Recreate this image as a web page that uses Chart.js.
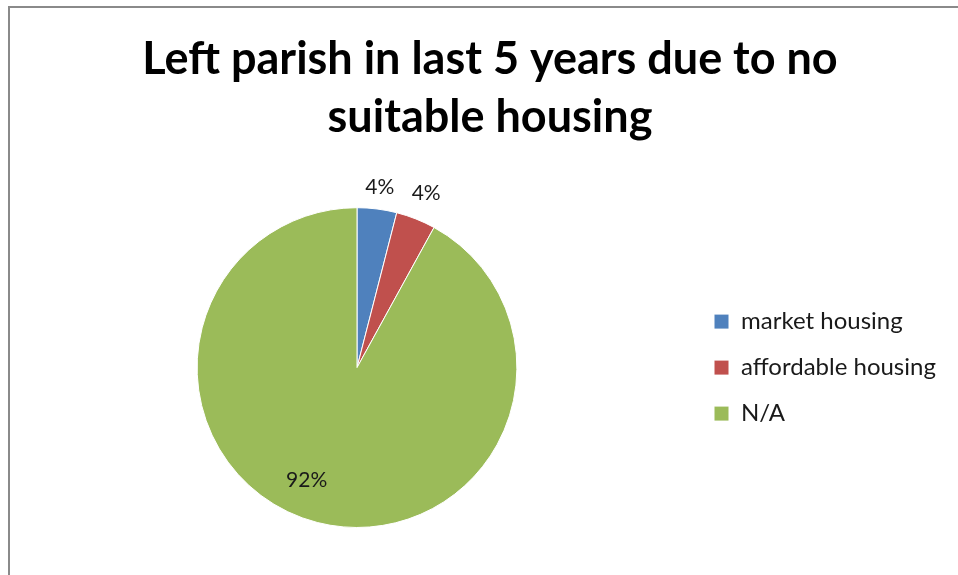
<!DOCTYPE html>
<html>
<head>
<meta charset="utf-8">
<script src="https://cdn.jsdelivr.net/npm/chart.js@4.4.0/dist/chart.umd.min.js"></script>
<style>
  html, body { margin: 0; padding: 0; background: #fff; }
  #frame {
    position: absolute; left: 8px; top: 6px; width: 960px; height: 580px;
    border-left: 2px solid #8a8a8a; border-top: 2px solid #8a8a8a;
  }
  #wrap { position: absolute; left: 0; top: 0; width: 958px; height: 575px; }
</style>
</head>
<body>
<div id="frame"></div>
<div id="wrap"><canvas id="chart-pie"></canvas></div>
<script>
// Data
var categories = ["market housing", "affordable housing", "N/A"];
var values = [4, 4, 92];
var colors = ["#4F81BD", "#C0504D", "#9BBB59"];
var titleLines = ["Left parish in last 5 years due to no", "suitable housing"];

// Label persen di luar untuk potongan kecil, di dalam untuk yang besar
var pieLabels = {
    id: "pieLabels",
    afterDatasetsDraw: function (chart) {
        var ctx = chart.ctx;
        var meta = chart.getDatasetMeta(0);
        ctx.save();
        ctx.font = "21px Lato, 'Open Sans', sans-serif";
        ctx.fillStyle = "#1a1a1a";
        ctx.textAlign = "center";
        ctx.textBaseline = "middle";
        meta.data.forEach(function (arc, i) {
            var mid = (arc.startAngle + arc.endAngle) / 2;
            var small = values[i] < 10;
            var r = small ? arc.outerRadius + 22 + i * 6 : arc.outerRadius * 0.77;
            if (!small) mid += 0.17;
            var x = arc.x + Math.cos(mid) * r;
            var y = arc.y + Math.sin(mid) * r;
            ctx.fillText(values[i] + "%", x, y);
        });
        ctx.restore();
    }
};

// Lebar legend dibuat tetap supaya judul dan pie pas posisinya
var legendWidth = {
    id: "legendWidth",
    beforeLayout: function (chart) {
        var lg = chart.legend;
        if (lg && !lg._fixedWidth) {
            var fit = lg.fit;
            lg.fit = function () {
                fit.call(this);
                this.width = 266;
            };
            lg._fixedWidth = true;
        }
    }
};

var ctx = document.getElementById("chart-pie").getContext("2d");
new Chart(ctx, {
    type: "pie",
    data: {
        labels: categories,
        datasets: [{
            data: values,
            backgroundColor: colors,
            borderColor: "#ffffff",
            borderWidth: 1
        }]
    },
    options: {
        responsive: true,
        maintainAspectRatio: false,
        animation: false,
        layout: {
            padding: { left: 22, right: 0, top: 0, bottom: 47 }
        },
        plugins: {
            title: {
                display: true,
                text: titleLines,
                color: "#000000",
                font: { size: 45, weight: "bold", family: "Lato, 'Open Sans', sans-serif", lineHeight: 1.28 },
                padding: { top: 31, bottom: 61 }
            },
            legend: {
                position: "right",
                align: "center",
                fullSize: false,
                labels: {
                    boxWidth: 15,
                    boxHeight: 15,
                    padding: 22,
                    color: "#1a1a1a",
                    font: { size: 24, family: "Lato, 'Open Sans', sans-serif" }
                }
            },
            tooltip: { enabled: false }
        }
    },
    plugins: [pieLabels, legendWidth]
});
</script>
</body>
</html>
